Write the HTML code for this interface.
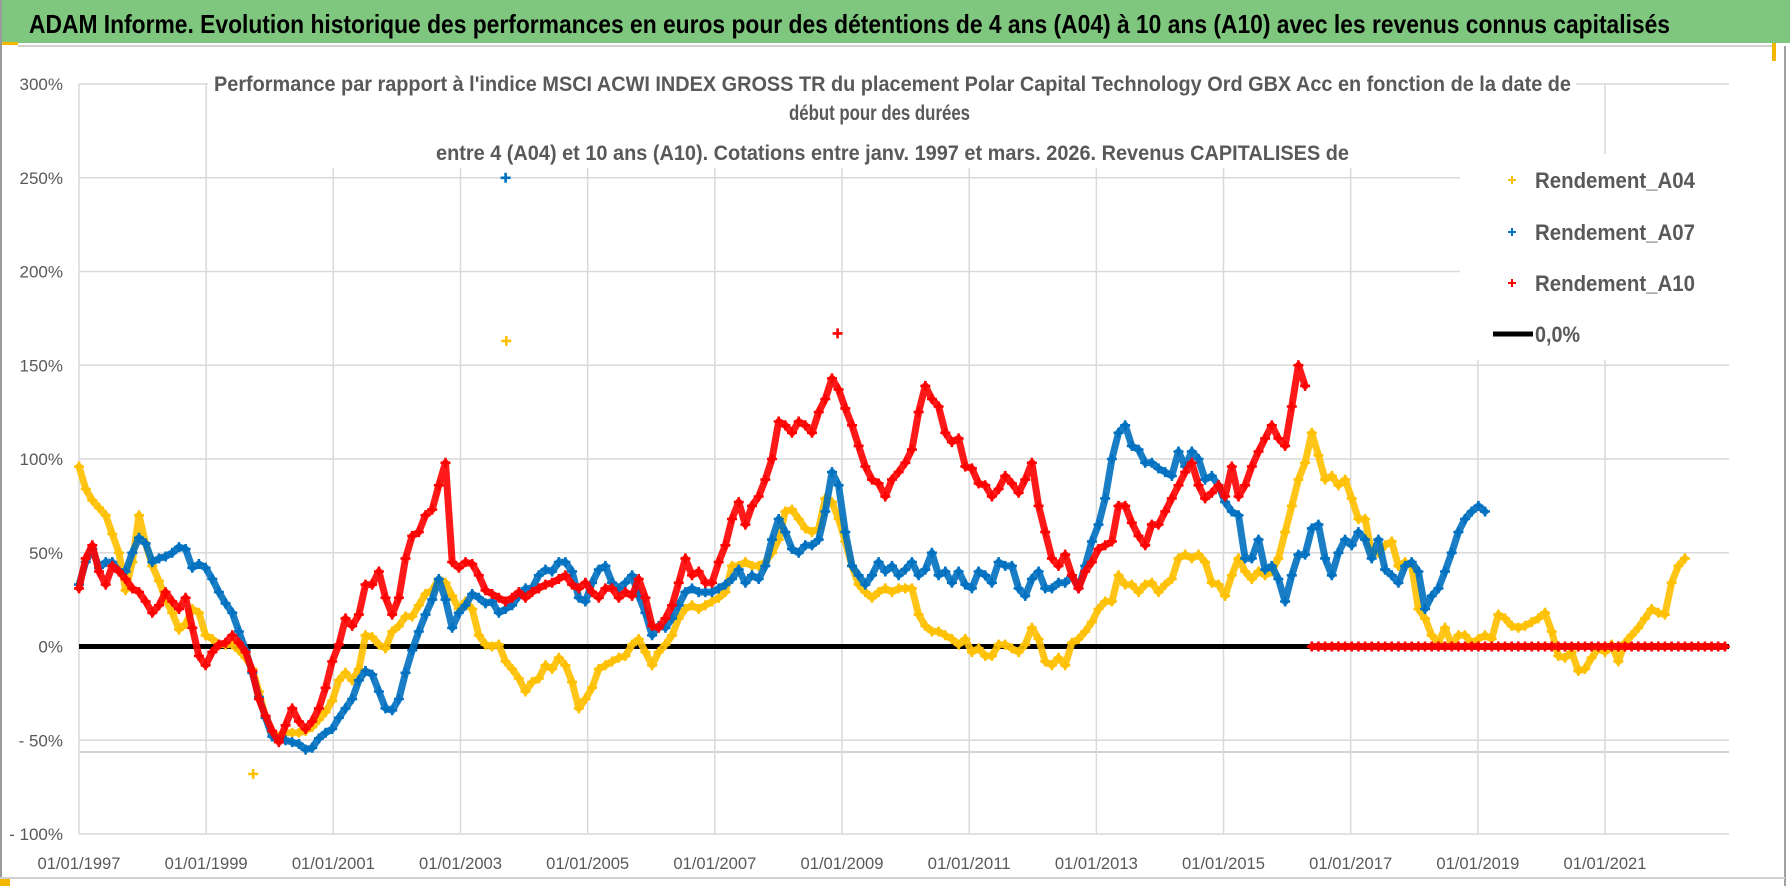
<!DOCTYPE html>
<html><head><meta charset="utf-8">
<style>
html,body{margin:0;padding:0;background:#fff;}
svg{display:block;font-family:"Liberation Sans",sans-serif;}
</style></head>
<body>
<svg id="chart" width="1790" height="886" viewBox="0 0 1790 886" xmlns="http://www.w3.org/2000/svg">
  <rect x="0" y="0" width="1790" height="886" fill="#ffffff"/>
  <rect x="0" y="0" width="1790" height="43" fill="#7fc77f"/>
  <rect x="0" y="42" width="18" height="3" fill="#f2b800"/>
  <line x1="18" y1="46" x2="1772" y2="46" stroke="#d0d0d0" stroke-width="2"/>
  <rect x="1772" y="43" width="4" height="18" fill="#f2b800"/>
  <line x1="1" y1="0" x2="1" y2="886" stroke="#9a9a9a" stroke-width="2"/>
  <line x1="1785" y1="46" x2="1785" y2="886" stroke="#a0a0a0" stroke-width="2"/>
  <line x1="0" y1="878" x2="1785" y2="878" stroke="#d0d0d0" stroke-width="2"/>
  <rect x="0" y="879" width="10" height="7" fill="#f2b800"/>
  <text x="29" y="33" font-size="26" font-weight="bold" fill="#000" textLength="1641" lengthAdjust="spacingAndGlyphs">ADAM Informe. Evolution historique des performances en euros pour des détentions de 4 ans (A04) à 10 ans (A10) avec les revenus connus capitalisés</text>
  <g id="grid"></g>
  <g id="axes"></g>
  <g id="marks"></g>
  <rect x="208" y="62" width="1368" height="106" fill="#fff"/>
  <text x="214" y="91" font-size="21" font-weight="bold" fill="#595959" textLength="1357" lengthAdjust="spacingAndGlyphs">Performance par rapport à l'indice MSCI ACWI INDEX GROSS TR  du placement Polar Capital Technology Ord GBX Acc en fonction de la date de</text>
  <text x="789" y="120" font-size="21" font-weight="bold" fill="#595959" textLength="181" lengthAdjust="spacingAndGlyphs">début pour des durées</text>
  <text x="436" y="160" font-size="21" font-weight="bold" fill="#595959" textLength="913" lengthAdjust="spacingAndGlyphs">entre 4 (A04) et 10 ans (A10).  Cotations entre janv. 1997 et mars. 2026. Revenus CAPITALISES de</text>
  <g>
    <rect x="1460" y="154" width="272" height="206" fill="#fff"/>
    <g>
      <path d="M1508 180h8M1512 176v8" stroke="#FFC000" stroke-width="2"/>
      <text x="1535" y="188" font-size="22" font-weight="bold" fill="#595959" textLength="160" lengthAdjust="spacingAndGlyphs">Rendement_A04</text>
    </g>
    <g>
      <path d="M1508 232h8M1512 228v8" stroke="#0070C0" stroke-width="2"/>
      <text x="1535" y="240" font-size="22" font-weight="bold" fill="#595959" textLength="160" lengthAdjust="spacingAndGlyphs">Rendement_A07</text>
    </g>
    <g>
      <path d="M1508 283h8M1512 279v8" stroke="#FF0000" stroke-width="2"/>
      <text x="1535" y="291" font-size="22" font-weight="bold" fill="#595959" textLength="160" lengthAdjust="spacingAndGlyphs">Rendement_A10</text>
    </g>
    <g>
      <line x1="1493" y1="334" x2="1533" y2="334" stroke="#000" stroke-width="5"/>
      <text x="1535" y="342" font-size="22" font-weight="bold" fill="#595959" textLength="45" lengthAdjust="spacingAndGlyphs">0,0%</text>
    </g>
  </g>
</svg>
<script>
// ---- data ----
const dateStart = 1997.0;
const dateStep = 0.1048; // years between samples
const yTicks = [300, 250, 200, 150, 100, 50, 0, -50, -100];
const yTickLabels = ["300%", "250%", "200%", "150%", "100%", "50%", "0%", "- 50%", "- 100%"];
const xTicks = [1997, 1999, 2001, 2003, 2005, 2007, 2009, 2011, 2013, 2015, 2017, 2019, 2021];
const xTickLabels = ["01/01/1997","01/01/1999","01/01/2001","01/01/2003","01/01/2005","01/01/2007","01/01/2009","01/01/2011","01/01/2013","01/01/2015","01/01/2017","01/01/2019","01/01/2021"];

const a04Values = [96,84,78,74,70,60,50,30,45,70,55,43,35,25,18,9,12,20,18,6,4,1,1,1,-2,-6,-12,-24,-38,-46,-48,-46,-46,-46,-45,-43,-39,-35,-29,-18,-14,-18,-12,6,5,1,-1,8,11,16,16,22,28,30,36,34,27,20,24,20,6,1,0,
1,-8,-12,-17,-24,-19,-17,-10,-12,-6,-10,-19,-33,-28,-22,-12,-10,-8,-6,-5,1,4,-3,-10,-3,1,6,15,20,22,20,22,24,26,29,43,43,45,43,43,45,50,57,72,73,68,63,61,63,79,77,68,56,43,33,29,26,29,31,29,31,31,31,17,11,8,8,6,
4,1,4,-3,-1,-5,-5,1,1,-1,-3,1,10,4,-8,-10,-6,-10,2,4,8,13,20,24,24,38,33,33,29,33,34,29,33,36,47,49,47,49,45,34,33,27,38,47,40,36,40,38,40,47,61,75,89,98,114,102,89,91,
86,89,79,68,68,50,50,54,56,43,45,43,20,15,6,2,10,1,6,6,2,4,6,4,17,15,11,10,11,13,15,18,8,-5,-6,-3,-13,-12,-6,-1,-3,1,-8,2,6,10,15,20,18,17,34,43,47];
const a07Values = [33,45,52,42,45,45,40,40,50,58,55,45,47,48,50,53,52,42,44,42,36,29,23,18,8,-2,-14,-27,-38,-48,-50,-50,-51,-52,-55,-54,-49,-46,-44,-38,-33,-28,-18,-13,-15,-24,-33,-34,-28,-14,-2,8,17,25,36,25,10,18,22,28,26,23,24,
18,20,22,27,31,31,38,41,40,45,45,40,26,24,34,41,43,34,31,34,38,27,18,6,11,10,15,22,29,31,29,29,29,31,33,36,41,34,38,36,43,57,68,61,52,50,54,54,57,72,93,86,61,43,38,33,38,45,40,43,38,41,45,38,41,50,38,40,
34,40,33,31,40,38,34,45,43,43,31,27,36,40,31,31,34,34,38,31,43,56,65,79,100,114,118,107,105,98,98,95,93,91,104,96,104,100,89,91,86,77,72,70,47,47,57,41,43,36,24,38,49,49,63,65,47,38,
50,57,54,61,57,47,57,41,38,34,43,45,40,20,27,31,40,50,61,68,72,75,72];
const a10Values = [31,47,54,40,33,43,40,36,31,29,24,18,22,29,24,20,26,10,-5,-10,-3,1,2,6,2,-3,-13,-28,-37,-45,-51,-42,-33,-40,-44,-40,-33,-22,-8,1,15,11,17,33,33,40,26,17,26,47,59,61,70,73,86,98,45,42,45,44,38,30,28,
26,24,26,29,26,29,31,33,34,36,38,33,31,34,29,26,31,31,26,29,27,36,26,11,10,15,22,34,47,38,40,34,34,45,54,68,77,65,75,80,89,100,120,118,114,120,118,114,125,132,143,137,127,118,107,96,89,87,80,89,93,98,105,125,139,132,128,114,
109,111,96,95,87,86,80,84,91,87,82,89,98,75,61,47,43,49,38,31,40,45,52,54,56,75,75,66,59,54,65,65,72,79,86,93,98,86,79,82,86,80,96,80,86,96,104,111,118,111,107,128,150,139,
0,0,0,0,0,0,0,0,0,0,0,0,0,0,0,0,0,0,0,0,0,0,0,0,0,0,0,0,0,0,0,0,0,0,0,0,0,0,0,0,0,0,0,0,0,0,0,0,0,0,0,0,0,0,0,0,0,0,0,0,0,0,0];
const a04ExtraDates = [2003.72, 1999.74];
const a04ExtraValues = [163, -68];
const a07ExtraDates = [2003.71];
const a07ExtraValues = [250];
const a10ExtraDates = [2008.93];
const a10ExtraValues = [167];
const zeroLineValue = 0;

// ---- axes ----
const X0 = 79, X1 = 1729, YEAR0 = 1997, YEAR1 = 2022.95;
const Y0 = 834, Y1 = 84, V0 = -100, V1 = 300;
function xScale(year){ return X0 + (year - YEAR0) * (X1 - X0) / (YEAR1 - YEAR0); }
function yScale(v){ return Y0 + (v - V0) * (Y1 - Y0) / (V1 - V0); }
const NS = "http://www.w3.org/2000/svg";
function mk(tag, attrs, parent){
  const e = document.createElementNS(NS, tag);
  for (const k in attrs) e.setAttribute(k, attrs[k]);
  parent.appendChild(e);
  return e;
}
const grid = document.getElementById('grid');
const axes = document.getElementById('axes');
const marks = document.getElementById('marks');

yTicks.forEach((v, i) => {
  const y = yScale(v);
  const gl = mk('line', {x1: X0, x2: X1, y1: y, y2: y, stroke: '#d9d9d9', 'stroke-width': 1.5}, grid);
  
  
  const t = mk('text', {x: 63, y: y + 6, 'text-anchor': 'end', 'font-size': 17, fill: '#595959'}, axes);
  t.textContent = yTickLabels[i];
  
  
});
const extra = mk('line', {x1: X0, x2: X1, y1: 752, y2: 752, stroke: '#c4c4c4', 'stroke-width': 1.5}, grid);


xTicks.forEach((yr, i) => {
  const x = xScale(yr);
  const gl = mk('line', {x1: x, x2: x, y1: Y1, y2: Y0, stroke: '#d9d9d9', 'stroke-width': 1.5}, grid);
  
  
  const t = mk('text', {x: x, y: 869, 'text-anchor': 'middle', 'font-size': 17, fill: '#595959', textLength: 83, lengthAdjust: 'spacingAndGlyphs'}, axes);
  t.textContent = xTickLabels[i];
  
  
});

const zl = mk('line', {x1: X0, x2: X1, y1: yScale(zeroLineValue), y2: yScale(zeroLineValue), stroke: '#000', 'stroke-width': 5}, marks);



function drawSeries(values, exDates, exValues, color, name){
  const g = mk('g', {stroke: color, fill: 'none'}, marks);
  
  
  // dense band approximating the daily point cloud (broken on large jumps)
  let band = '';
  let prev = null;
  values.forEach((v, k) => {
    if (v === null) { prev = null; return; }
    const x = xScale(dateStart + k * dateStep), y = yScale(v);
    const jump = prev === null || Math.abs(v - prev) > 60;
    band += (jump ? 'M' : 'L') + x.toFixed(1) + ' ' + y.toFixed(1);
    prev = v;
  });
  const b = mk('path', {d: band, 'stroke-width': 7, 'stroke-linejoin': 'round', 'stroke-linecap': 'round', opacity: 0.9}, g);
  
  
  let d = '';
  const add = (yr, v) => {
    const x = xScale(yr), y = yScale(v);
    d += 'M' + (x - 5).toFixed(1) + ' ' + y.toFixed(1) + 'h10M' + x.toFixed(1) + ' ' + (y - 5).toFixed(1) + 'v10';
  };
  values.forEach((v, k) => { if (v !== null) add(dateStart + k * dateStep, v); });
  exDates.forEach((yr, i) => add(yr, exValues[i]));
  const p = mk('path', {d: d, 'stroke-width': 2.6}, g);
  
  
}
drawSeries(a04Values, a04ExtraDates, a04ExtraValues, '#FFC000', 'series-rendement-a04');
drawSeries(a07Values, a07ExtraDates, a07ExtraValues, '#0070C0', 'series-rendement-a07');
drawSeries(a10Values, a10ExtraDates, a10ExtraValues, '#FF0000', 'series-rendement-a10');
</script>
</body></html>
